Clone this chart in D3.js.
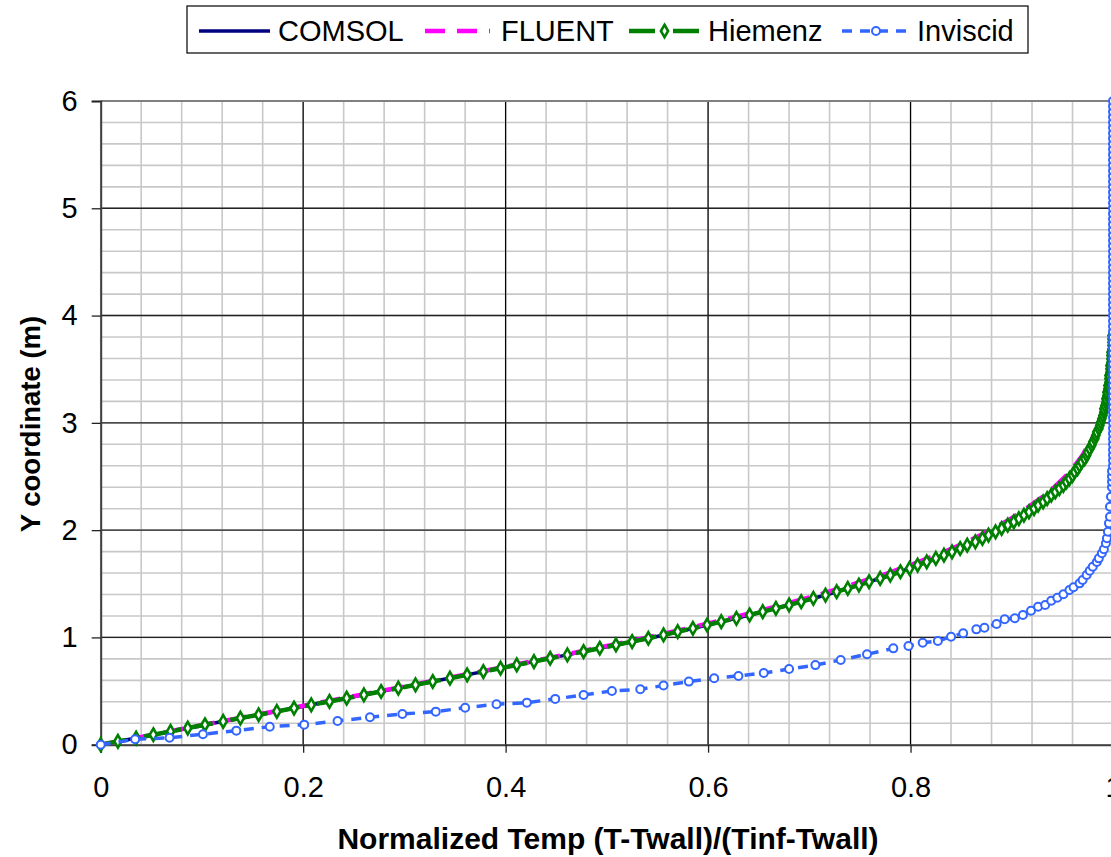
<!DOCTYPE html>
<html>
<head>
<meta charset="utf-8">
<script src="https://cdn.jsdelivr.net/npm/d3@7"></script>
<style>
  body { margin: 0; background: #fff; }
  svg text { font-family: Arial, "Liberation Sans", sans-serif; }
</style>
</head>
<body>
<svg id="chart" width="1111" height="857"></svg>
<script>
/*************************************************************
 *  Data section.
 *************************************************************/

// tick labels
const xTicks = [0, 0.2, 0.4, 0.6, 0.8, 1];
const yTicks = [0, 1, 2, 3, 4, 5, 6];

// COMSOL (solid navy line)
const comsolY = [0, 0.1, 0.2, 0.3, 0.4, 0.5, 0.6, 0.7, 0.8, 0.9, 1.0, 1.1, 1.2, 1.3, 1.4, 1.5, 1.6, 1.7, 1.8, 1.9,
  2.0, 2.1, 2.2, 2.3, 2.4, 2.5, 2.6, 2.7, 2.8, 2.9, 3.0, 3.2, 3.4, 3.6, 3.8, 4.0, 5.0, 6.0];
const comsolT = [0, 0.056, 0.111, 0.168, 0.224, 0.279, 0.334, 0.388, 0.441, 0.494, 0.545, 0.592, 0.637, 0.679, 0.718,
  0.753, 0.786, 0.815, 0.842, 0.866, 0.887, 0.906, 0.922, 0.936, 0.949, 0.959, 0.967, 0.974, 0.979, 0.984, 0.988,
  0.993, 0.996, 0.998, 0.999, 1, 1, 1];

// FLUENT (magenta dashes)
const fluentY = [0, 0.1, 0.2, 0.3, 0.4, 0.5, 0.6, 0.7, 0.8, 0.9, 1.0, 1.1, 1.2, 1.3, 1.4, 1.5, 1.6, 1.7, 1.8, 1.9,
  2.0, 2.1, 2.2, 2.3, 2.4, 2.5, 2.6, 2.7, 2.8, 2.9, 3.0, 3.2, 3.4, 3.6, 3.8, 4.0, 5.0, 6.0];
const fluentT = [0, 0.055, 0.110, 0.166, 0.221, 0.276, 0.331, 0.385, 0.438, 0.490, 0.540, 0.587, 0.631, 0.672, 0.710,
  0.745, 0.778, 0.807, 0.834, 0.858, 0.879, 0.898, 0.914, 0.929, 0.942, 0.953, 0.962, 0.970, 0.976, 0.982, 0.986,
  0.992, 0.995, 0.998, 0.999, 1, 1, 1];

// Hiemenz (green dashes, diamonds)
const hiemenzY = [0, 0.031, 0.062, 0.093, 0.124, 0.155, 0.186, 0.217, 0.248, 0.279, 0.310, 0.341, 0.372, 0.403,
  0.434, 0.465, 0.496, 0.527, 0.558, 0.589, 0.620, 0.651, 0.682, 0.713, 0.744, 0.775, 0.806, 0.837, 0.868, 0.899,
  0.930, 0.961, 0.992, 1.023, 1.054, 1.085, 1.116, 1.147, 1.178, 1.209, 1.240, 1.271, 1.302, 1.333, 1.364, 1.395,
  1.426, 1.457, 1.488, 1.519, 1.550, 1.581, 1.612, 1.643, 1.674, 1.705, 1.736, 1.767, 1.798, 1.829, 1.860, 1.891,
  1.922, 1.953, 1.984, 2.015, 2.046, 2.077, 2.108, 2.139, 2.170, 2.201, 2.232, 2.263, 2.294, 2.325, 2.356, 2.387,
  2.418, 2.449, 2.480, 2.511, 2.542, 2.573, 2.604, 2.635, 2.666, 2.697, 2.728, 2.759, 2.790, 2.821, 2.852, 2.883,
  2.914, 2.945, 2.976, 3.007, 3.038, 3.069, 3.100, 3.131, 3.162, 3.193, 3.224, 3.255, 3.286, 3.317, 3.348, 3.379,
  3.410, 3.441, 3.472, 3.503, 3.534, 3.565, 3.596, 3.627, 3.658, 3.689, 3.720, 3.751, 3.782, 3.813, 3.844];
const hiemenzT = [0, 0.017, 0.035, 0.052, 0.069, 0.086, 0.103, 0.121, 0.138, 0.156, 0.174, 0.191, 0.208, 0.226,
  0.243, 0.260, 0.277, 0.294, 0.311, 0.328, 0.345, 0.362, 0.378, 0.395, 0.411, 0.428, 0.444, 0.461, 0.477, 0.493,
  0.509, 0.525, 0.541, 0.556, 0.570, 0.585, 0.599, 0.613, 0.628, 0.641, 0.654, 0.667, 0.680, 0.692, 0.704, 0.716,
  0.727, 0.738, 0.749, 0.759, 0.770, 0.780, 0.790, 0.799, 0.807, 0.816, 0.825, 0.833, 0.841, 0.849, 0.856, 0.864,
  0.871, 0.877, 0.884, 0.890, 0.896, 0.902, 0.907, 0.912, 0.917, 0.922, 0.926, 0.931, 0.935, 0.939, 0.943, 0.947,
  0.951, 0.954, 0.957, 0.960, 0.962, 0.965, 0.967, 0.969, 0.972, 0.974, 0.975, 0.977, 0.979, 0.980, 0.982, 0.983,
  0.984, 0.986, 0.987, 0.988, 0.989, 0.990, 0.991, 0.991, 0.992, 0.993, 0.993, 0.994, 0.994, 0.995, 0.995, 0.996,
  0.996, 0.996, 0.997, 0.997, 0.997, 0.998, 0.998, 0.998, 0.998, 0.999, 0.999, 0.999, 0.999, 0.999, 1.000];

// Inviscid (blue dashes, circles)
const inviscidY = [0, 0.050, 0.065, 0.098, 0.131, 0.168, 0.187, 0.221, 0.256, 0.286, 0.308, 0.345, 0.377, 0.392,
  0.427, 0.464, 0.501, 0.517, 0.551, 0.588, 0.620, 0.641, 0.668, 0.705, 0.742, 0.790, 0.843, 0.898, 0.920, 0.951,
  0.966, 1.007, 1.038, 1.075, 1.090, 1.125, 1.169, 1.178, 1.209, 1.249, 1.286, 1.302, 1.342, 1.370, 1.402, 1.442,
  1.467, 1.504, 1.535, 1.582, 1.622, 1.659, 1.703, 1.737, 1.784, 1.821, 1.877, 1.924, 1.985, 2.063, 2.125, 2.218,
  2.311, 2.40, 2.45, 2.50, 2.55, 2.60, 2.65, 2.70, 2.75, 2.80, 2.85, 2.90, 2.95, 3.00, 3.05, 3.10, 3.15, 3.20,
  3.25, 3.30, 3.35, 3.40, 3.45, 3.50, 3.55, 3.60, 3.65, 3.70, 3.75, 3.80, 3.85, 3.90, 3.95, 4.00, 4.05, 4.10,
  4.15, 4.20, 4.25, 4.30, 4.35, 4.40, 4.45, 4.50, 4.55, 4.60, 4.65, 4.70, 4.75, 4.80, 4.85, 4.90, 4.95, 5.00,
  5.05, 5.10, 5.15, 5.20, 5.25, 5.30, 5.35, 5.40, 5.45, 5.50, 5.55, 5.60, 5.65, 5.70, 5.75, 5.80, 5.85, 5.90,
  5.95, 6.00];
const inviscidT = [0, 0.034, 0.068, 0.101, 0.134, 0.167, 0.201, 0.234, 0.266, 0.298, 0.331, 0.360, 0.391, 0.421,
  0.449, 0.477, 0.505, 0.533, 0.556, 0.581, 0.606, 0.630, 0.655, 0.680, 0.706, 0.731, 0.757, 0.783, 0.798, 0.812,
  0.827, 0.840, 0.852, 0.865, 0.873, 0.885, 0.893, 0.903, 0.911, 0.919, 0.926, 0.933, 0.939, 0.945, 0.951, 0.957,
  0.961, 0.967, 0.970, 0.974, 0.977, 0.980, 0.984, 0.986, 0.989, 0.991, 0.993, 0.994, 0.995, 0.996, 0.997, 0.997,
  0.998, 0.999, 0.999, 0.999, 0.999, 1, 1, 1, 1, 1, 1, 1, 1, 1, 1, 1, 1, 1,
  1, 1, 1, 1, 1, 1, 1, 1, 1, 1, 1, 1, 1, 1, 1, 1, 1, 1,
  1, 1, 1, 1, 1, 1, 1, 1, 1, 1, 1, 1, 1, 1, 1, 1, 1, 1,
  1, 1, 1, 1, 1, 1, 1, 1, 1, 1, 1, 1, 1, 1, 1, 1, 1, 1,
  1, 1];

const series = [
  {name: 'COMSOL', t: comsolT, y: comsolY, color: '#000080', width: 3.5, dash: null, marker: null},
  {name: 'FLUENT', t: fluentT, y: fluentY, color: '#FF00FF', width: 4.5, dash: '20,12', marker: null},
  {name: 'Hiemenz', t: hiemenzT, y: hiemenzY, color: '#008000', width: 4.5, dash: '26,6,6,6', marker: 'diamond'},
  {name: 'Inviscid', t: inviscidT, y: inviscidY, color: '#3366FF', width: 3.5, dash: '10,8', marker: 'circle'}
];

/*************************************************************
 *  Drawing section.
 *************************************************************/

const svg = d3.select('#chart');

// plot area
const plotLeft = 100.7, plotRight = 1113, plotTop = 101, plotBottom = 744.7;

const x = d3.scaleLinear().domain([0, 1]).range([plotLeft, plotRight]);
const y = d3.scaleLinear().domain([0, 6]).range([plotBottom, plotTop]);

/**
 * Grid lines: light minor lines, darker majors.
 */
function draw_grid(){
  let g = svg.append('g');
  let minorX = d3.range(0, 1.0001, 0.04);
  let minorY = d3.range(0, 6.0001, 0.2);

  g.selectAll('.vminor').data(minorX).enter().append('line')
    .attr('x1', d => x(d)).attr('x2', d => x(d))
    .attr('y1', plotTop).attr('y2', plotBottom)
    .attr('stroke', '#c8c8c8').attr('stroke-width', 1.6);

  g.selectAll('.hminor').data(minorY).enter().append('line')
    .attr('x1', plotLeft).attr('x2', plotRight)
    .attr('y1', d => y(d)).attr('y2', d => y(d))
    .attr('stroke', '#c8c8c8').attr('stroke-width', 1.6);

  g.selectAll('.vmajor').data(xTicks.slice(1, -1)).enter().append('line')
    .attr('x1', d => x(d)).attr('x2', d => x(d))
    .attr('y1', plotTop).attr('y2', plotBottom)
    .attr('stroke', '#000').attr('stroke-width', 1.2);

  g.selectAll('.hmajor').data(yTicks.slice(1, -1)).enter().append('line')
    .attr('x1', plotLeft).attr('x2', plotRight)
    .attr('y1', d => y(d)).attr('y2', d => y(d))
    .attr('stroke', '#222').attr('stroke-width', 1.4);

  // top border
  g.append('line')
    .attr('x1', plotLeft).attr('x2', plotRight)
    .attr('y1', plotTop).attr('y2', plotTop)
    .attr('stroke', '#808080').attr('stroke-width', 2);
}

/**
 * Axes with outside tick marks.
 */
function draw_axes(){
  let xAxis = d3.axisBottom(x)
    .tickValues(xTicks)
    .tickSize(8)
    .tickPadding(24)
    .tickFormat(d3.format('~g'));

  let yAxis = d3.axisLeft(y)
    .tickValues(yTicks)
    .tickSize(9)
    .tickPadding(14)
    .tickFormat(d3.format('d'));

  let gx = svg.append('g')
    .attr('transform', `translate(0,${plotBottom})`)
    .call(xAxis);
  let gy = svg.append('g')
    .attr('transform', `translate(${plotLeft},0)`)
    .call(yAxis);

  for (let g of [gx, gy]){
    g.select('.domain').attr('stroke', '#404040').attr('stroke-width', 2);
    g.selectAll('.tick line').attr('stroke', '#222').attr('stroke-width', 1.3);
    g.selectAll('.tick text')
      .attr('fill', '#000')
      .style('font-size', '29px')
      .style('font-family', 'Arial, "Liberation Sans", sans-serif');
  }

  // axis titles
  svg.append('text')
    .attr('x', 608)
    .attr('y', 849)
    .attr('text-anchor', 'middle')
    .style('font-size', '30px')
    .style('font-weight', 'bold')
    .text('Normalized Temp (T-Twall)/(Tinf-Twall)');

  svg.append('text')
    .attr('transform', 'translate(40,424) rotate(-90)')
    .attr('text-anchor', 'middle')
    .style('font-size', '27.5px')
    .style('font-weight', 'bold')
    .text('Y coordinate (m)');
}

/**
 * Draws one marker at (cx, cy).
 */
function draw_marker(g, kind, cx, cy, color){
  if (kind === 'diamond'){
    g.append('path')
      .attr('d', d3.symbol(d3.symbolDiamond, 45)())
      .attr('transform', `translate(${cx},${cy})`)
      .attr('fill', '#fff')
      .attr('stroke', color)
      .attr('stroke-width', 2.6);
  } else if (kind === 'circle'){
    g.append('circle')
      .attr('cx', cx).attr('cy', cy).attr('r', 4)
      .attr('fill', '#fff')
      .attr('stroke', color)
      .attr('stroke-width', 2);
  }
}

/**
 * Series lines and markers.
 */
function draw_series(){
  let line = d3.line()
    .x(d => x(d[0]))
    .y(d => y(d[1]));

  for (let s of series){
    let pts = s.t.map((t, i) => [t, s.y[i]]);
    let g = svg.append('g');
    g.append('path')
      .datum(pts)
      .attr('d', line)
      .attr('fill', 'none')
      .attr('stroke', s.color)
      .attr('stroke-width', s.width)
      .attr('stroke-dasharray', s.dash)
      .attr('stroke-linejoin', 'round');
    if (s.marker){
      for (let p of pts){
        draw_marker(g, s.marker, x(p[0]), y(p[1]), s.color);
      }
    }
  }
}

/**
 * Legend box on top.
 */
function draw_legend(){
  let g = svg.append('g');
  g.append('rect')
    .attr('x', 187).attr('y', 6)
    .attr('width', 841).attr('height', 47)
    .attr('fill', '#fff')
    .attr('stroke', '#000')
    .attr('stroke-width', 1.2);

  let items = [
    {s: series[0], x1: 199, x2: 270, tx: 278},
    {s: series[1], x1: 425, x2: 490, tx: 501},
    {s: series[2], x1: 629, x2: 700, tx: 708},
    {s: series[3], x1: 842, x2: 910, tx: 917}
  ];
  let cy = 31;
  for (let it of items){
    let s = it.s;
    g.append('line')
      .attr('x1', it.x1).attr('x2', it.x2)
      .attr('y1', cy).attr('y2', cy)
      .attr('stroke', s.color)
      .attr('stroke-width', s.width)
      .attr('stroke-dasharray', s.dash);
    if (s.marker){
      draw_marker(g, s.marker, (it.x1 + it.x2) / 2, cy, s.color);
    }
    g.append('text')
      .attr('x', it.tx)
      .attr('y', 41)
      .style('font-size', '29px')
      .text(s.name);
  }
}

draw_grid();
draw_axes();
draw_series();
draw_legend();
</script>
</body>
</html>
